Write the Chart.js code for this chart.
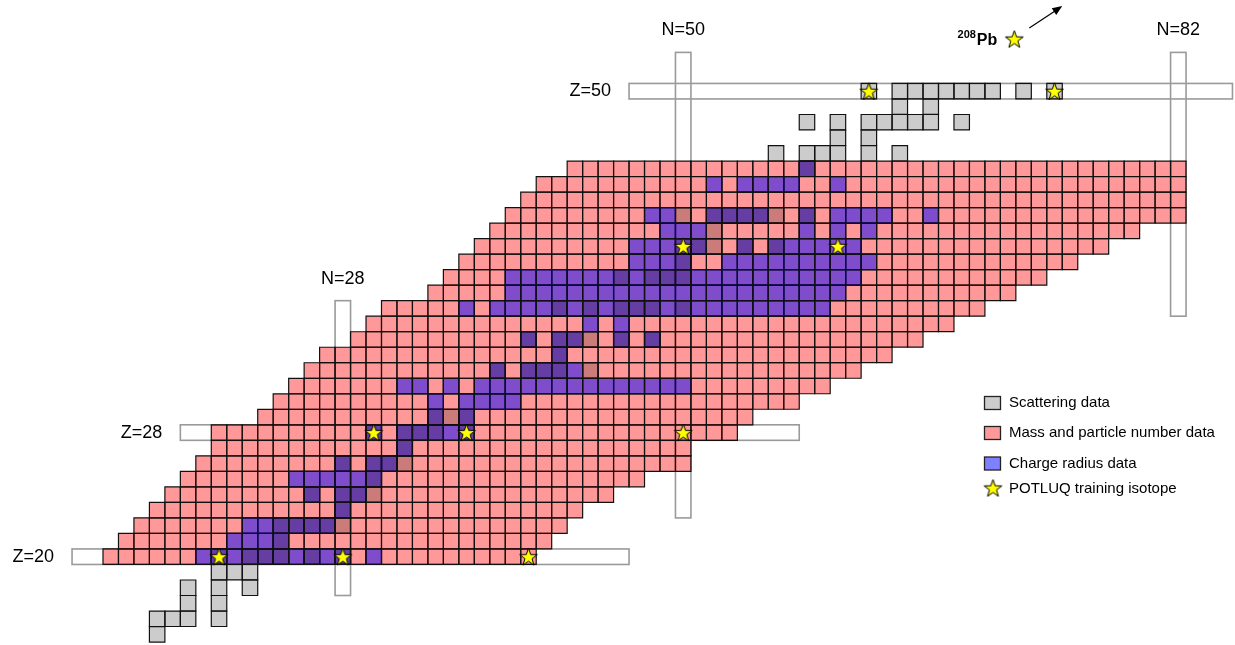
<!DOCTYPE html>
<html>
<head>
<meta charset="utf-8">
<title>Nuclear chart</title>
<script src="https://cdn.jsdelivr.net/npm/chart.js@4.4.1/dist/chart.umd.min.js"></script>
<style>
    html, body { margin: 0; padding: 0; background: #fff; }
    #wrap { position: relative; width: 1235px; height: 645px; }
</style>
</head>
<body>
<div id="wrap"><canvas id="chart"></canvas></div>
<script>
// rows with mass / particle number data: proton number, first and last neutron number
const massZ      = [20, 21, 22, 23, 24, 25, 26, 27, 28, 29, 30, 31, 32, 33, 34, 35, 36, 37, 38, 39, 40, 41, 42, 43, 44, 45];
const massFirstN = [13, 14, 15, 16, 17, 18, 19, 20, 20, 23, 24, 25, 26, 27, 29, 30, 31, 34, 35, 36, 37, 38, 39, 40, 41, 43];
const massLastN  = [40, 41, 42, 43, 45, 47, 50, 50, 53, 54, 57, 59, 61, 63, 65, 67, 69, 71, 73, 75, 77, 79, 82, 82, 82, 82];

// charge radius data, neutron numbers per proton number
const radiusZ = [20, 21, 22, 23, 24, 25, 26, 27, 28, 29, 30, 31, 32, 33, 34, 35, 36, 37, 38, 39, 40, 41, 42, 44, 45];
const radiusN = [
    [19, 20, 21, 22, 23, 24, 25, 26, 27, 28, 30],
    [21, 22, 23, 24],
    [22, 23, 24, 25, 26, 27],
    [28],
    [26, 28, 29],
    [25, 26, 27, 28, 29, 30],
    [28, 30, 31],
    [32],
    [30, 32, 33, 34, 35, 36],
    [34, 36],
    [34, 36, 37, 38, 39],
    [32, 33, 35, 37, 38, 39, 40, 41, 42, 43, 44, 45, 46, 47, 48, 49, 50],
    [38, 40, 41, 42, 43],
    [42],
    [40, 42, 43, 46, 48],
    [44, 46],
    [36, 38, 39, 40, 41, 42, 43, 44, 45, 46, 47, 48, 49, 50, 51, 52, 53, 54, 55, 56, 57, 58, 59],
    [39, 40, 41, 42, 43, 44, 45, 46, 47, 48, 49, 50, 51, 52, 53, 54, 55, 56, 57, 58, 59, 60],
    [39, 40, 41, 42, 43, 44, 45, 46, 47, 48, 49, 50, 51, 52, 53, 54, 55, 56, 57, 58, 59, 60, 61],
    [47, 48, 49, 50, 53, 54, 55, 56, 57, 58, 59, 60, 61, 62],
    [47, 48, 49, 50, 51, 54, 56, 57, 58, 59, 60, 61],
    [49, 50, 51, 58, 60, 62],
    [48, 49, 52, 53, 54, 55, 58, 60, 61, 62, 63, 66],
    [52, 54, 55, 56, 57, 60],
    [58]
];

// scattering data, neutron numbers per proton number
const scatterZ = [15, 16, 17, 18, 19, 20, 21, 22, 23, 24, 25, 26, 27, 28, 29, 32, 33, 34, 36, 38, 39, 40, 41, 42, 45, 46, 47, 48, 49, 50];
const scatterN = [
    [16],
    [16, 17, 18, 20],
    [18, 20],
    [18, 20, 22],
    [20, 21, 22],
    [20, 22, 23, 24, 26, 28],
    [24],
    [24, 25, 26, 27, 28],
    [28],
    [26, 28, 29, 30],
    [30],
    [28, 30, 31, 32],
    [32],
    [30, 32, 33, 34, 36],
    [34, 35, 36],
    [38, 40, 41, 42, 44],
    [42],
    [40, 42, 43, 44, 46, 48],
    [42, 44, 46, 47, 48, 50],
    [46, 48, 49, 50],
    [50],
    [50, 51, 52, 54, 56],
    [52],
    [50, 52, 53, 54, 55, 56, 58],
    [58],
    [56, 58, 59, 60, 62, 64],
    [60, 62],
    [58, 60, 62, 63, 64, 65, 66, 68],
    [64, 66],
    [62, 64, 65, 66, 67, 68, 69, 70, 72, 74]
];

// POTLUQ training isotopes
const starN = [20, 28, 40, 30, 36, 50, 50, 60, 62, 74];
const starZ = [20, 20, 20, 28, 28, 28, 40, 40, 50, 50];

// magic number bands
const magicZ     = [20, 28, 50];
const magicZFrom = [11, 18, 47];
const magicZTo   = [46, 57, 85];
const magicN     = [28, 50, 82];
const magicNFrom = [18, 23, 36];
const magicNTo   = [36, 52, 52];

// 208Pb pointer, placed beyond the drawn region
const pbN = 71.4;
const pbZ = 53.36;

const legendLabels = ["Scattering data", "Mass and particle number data", "Charge radius data", "POTLUQ training isotope"];

const FONT = '"Liberation Sans", Arial, sans-serif';

const toPoints = (zs, ns) => {
    const pts = [];
    zs.forEach((z, i) => ns[i].forEach(n => pts.push({ x: n, y: z })));
    return pts;
};

const massPoints = [];
massZ.forEach((z, i) => {
    for (let n = massFirstN[i]; n <= massLastN[i]; n++) massPoints.push({ x: n, y: z });
});

const makeStar = (size) => {
    const c = document.createElement("canvas");
    c.width = size;
    c.height = size;
    const g = c.getContext("2d");
    const R = size / 2 - 1.2, r = R * 0.4, cx = size / 2, cy = size / 2 + 0.8;
    g.beginPath();
    for (let i = 0; i < 10; i++) {
        const a = -Math.PI / 2 + i * Math.PI / 5;
        const rr = i % 2 ? r : R;
        g.lineTo(cx + rr * Math.cos(a), cy + rr * Math.sin(a));
    }
    g.closePath();
    g.fillStyle = "#ffff00";
    g.fill();
    g.lineWidth = 1;
    g.strokeStyle = "#000";
    g.stroke();
    return c;
};
const starImg = makeStar(21);

// square side follows the x scale: one neutron number per cell
const cellRadius = (ctx) => {
    const s = ctx.chart.scales.x;
    return Math.abs(s.getPixelForValue(1) - s.getPixelForValue(0)) * Math.SQRT1_2;
};

const cellSet = (label, data, color, order) => ({
    label: label,
    data: data,
    order: order,
    pointStyle: "rect",
    pointRadius: cellRadius,
    pointHoverRadius: cellRadius,
    backgroundColor: color,
    borderColor: "#111",
    borderWidth: 1.2,
    pointHoverBorderWidth: 1.2
});

const magicBands = {
    id: "magicBands",
    beforeDatasetsDraw(chart) {
        const { ctx } = chart;
        const x = chart.scales.x, y = chart.scales.y;
        ctx.save();
        ctx.strokeStyle = "#9a9a9a";
        ctx.lineWidth = 1.6;
        ctx.fillStyle = "#000";
        ctx.font = "18px " + FONT;
        ctx.textBaseline = "middle";

        magicZ.forEach((z, i) => {
            const x0 = x.getPixelForValue(magicZFrom[i] - 0.5);
            const x1 = x.getPixelForValue(magicZTo[i] + 0.5);
            const y0 = y.getPixelForValue(z + 0.5);
            const y1 = y.getPixelForValue(z - 0.5);
            ctx.strokeRect(x0, y0, x1 - x0, y1 - y0);
            ctx.textAlign = "right";
            ctx.fillText("Z=" + z, x0 - 18, (y0 + y1) / 2);
        });

        magicN.forEach((n, i) => {
            const x0 = x.getPixelForValue(n - 0.5);
            const x1 = x.getPixelForValue(n + 0.5);
            const y0 = y.getPixelForValue(magicNTo[i] + 0.5);
            const y1 = y.getPixelForValue(magicNFrom[i] - 0.5);
            ctx.strokeRect(x0, y0, x1 - x0, y1 - y0);
            ctx.textAlign = "center";
            ctx.fillText("N=" + n, (x0 + x1) / 2, y0 - 22);
        });
        ctx.restore();
    }
};

const notes = {
    id: "notes",
    afterDatasetsDraw(chart) {
        const { ctx } = chart;
        const x = chart.scales.x, y = chart.scales.y;
        ctx.save();

        // 208Pb marker with arrow
        const px = x.getPixelForValue(pbN), py = y.getPixelForValue(pbZ);
        ctx.drawImage(starImg, px - starImg.width / 2, py - starImg.height / 2);
        ctx.fillStyle = "#000";
        ctx.textBaseline = "alphabetic";
        ctx.textAlign = "right";
        ctx.font = "bold 16px " + FONT;
        const pbRight = px - 17;
        ctx.fillText("Pb", pbRight, py + 6);
        const pbW = ctx.measureText("Pb").width;
        ctx.font = "bold 11px " + FONT;
        ctx.fillText("208", pbRight - pbW - 1, py - 1.5);

        const ax0 = px + 15, ay0 = py - 11, ax1 = px + 48, ay1 = py - 33;
        const ang = Math.atan2(ay1 - ay0, ax1 - ax0);
        ctx.strokeStyle = "#000";
        ctx.lineWidth = 1.2;
        ctx.beginPath();
        ctx.moveTo(ax0, ay0);
        ctx.lineTo(ax1 - 6 * Math.cos(ang), ay1 - 6 * Math.sin(ang));
        ctx.stroke();
        ctx.beginPath();
        ctx.moveTo(ax1, ay1);
        ctx.lineTo(ax1 - 10 * Math.cos(ang) + 4 * Math.sin(ang), ay1 - 10 * Math.sin(ang) - 4 * Math.cos(ang));
        ctx.lineTo(ax1 - 10 * Math.cos(ang) - 4 * Math.sin(ang), ay1 - 10 * Math.sin(ang) + 4 * Math.cos(ang));
        ctx.closePath();
        ctx.fill();

        // legend
        const swatches = ["#cccccc", "#ff9999", "#8080ff"];
        const rowY = [403, 433, 463.5, 489];
        ctx.font = "15px " + FONT;
        ctx.textAlign = "left";
        ctx.textBaseline = "middle";
        ctx.lineWidth = 1.3;
        ctx.strokeStyle = "#222";
        swatches.forEach((c, i) => {
            ctx.fillStyle = c;
            ctx.fillRect(984.5, rowY[i] - 6.5, 16, 13);
            ctx.strokeRect(984.5, rowY[i] - 6.5, 16, 13);
        });
        ctx.drawImage(starImg, 993 - starImg.width / 2, rowY[3] - starImg.height / 2 - 1);
        ctx.fillStyle = "#000";
        legendLabels.forEach((t, i) => ctx.fillText(t, 1009, rowY[i]));
        ctx.restore();
    }
};

new Chart(document.getElementById("chart"), {
    type: "scatter",
    data: {
        datasets: [
            cellSet("Mass and particle number data", massPoints, "rgba(255,0,0,0.4)", 4),
            cellSet("Charge radius data", toPoints(radiusZ, radiusN), "rgba(0,0,255,0.5)", 3),
            cellSet("Scattering data", toPoints(scatterZ, scatterN), "rgba(0,0,0,0.2)", 2),
            {
                label: "POTLUQ training isotope",
                data: starN.map((n, i) => ({ x: n, y: starZ[i] })),
                order: 1,
                pointStyle: starImg,
                pointRadius: 10,
                pointHoverRadius: 10
            }
        ]
    },
    options: {
        responsive: true,
        maintainAspectRatio: false,
        animation: false,
        events: [],
        layout: { autoPadding: false, padding: 0 },
        plugins: {
            legend: { display: false },
            tooltip: { enabled: false }
        },
        scales: {
            x: { type: "linear", display: false, min: 5.843, max: 85.664 },
            y: { type: "linear", display: false, min: 14.31, max: 55.877 }
        }
    },
    plugins: [magicBands, notes]
});
</script>
</body>
</html>
